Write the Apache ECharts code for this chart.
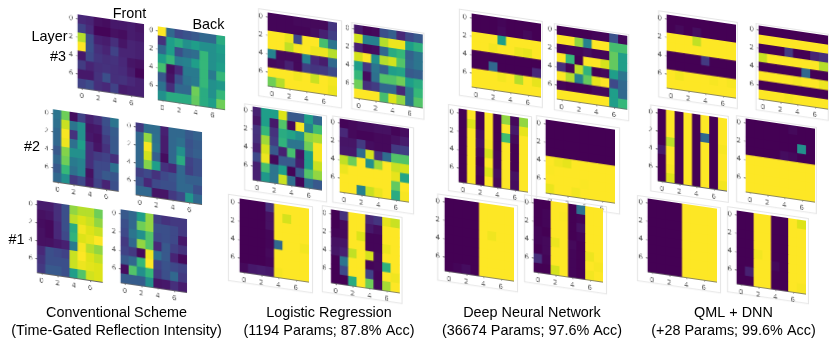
<!DOCTYPE html>
<html><head><meta charset="utf-8">
<script src="https://cdn.jsdelivr.net/npm/echarts@6/dist/echarts.min.js"></script>
<style>
html,body{margin:0;padding:0;background:#fff;width:830px;height:348px;overflow:hidden}
#stage{position:relative;width:830px;height:348px}
.panel{position:absolute;transform-origin:0 0;filter:blur(.45px)}
.frame{position:absolute;box-sizing:border-box;border:1px solid #e6e6e6}
.chart{position:absolute;left:0;top:0}
#text{position:absolute;left:0;top:0;width:830px;height:348px;pointer-events:none}
</style></head><body>
<div id="stage"></div>
<script>
const indexLabels = ['0','1','2','3','4','5','6','7'];
const captions = [
  ['Conventional Scheme','(Time-Gated Reflection Intensity)'],
  ['Logistic Regression','(1194 Params; 87.8% Acc)'],
  ['Deep Neural Network','(36674 Params; 97.6% Acc)'],
  ['QML + DNN','(+28 Params; 99.6% Acc)']
];
const conv3Front = [[1,.9,.4,.3,.6,.6,.7,.5],[1.8,1.1,.1,.1,.4,.3,.7,.6],[8,2.1,.8,.7,1.2,.5,.9,.8],[10,2.2,1.2,.9,1.8,.9,.9,.8],[.6,2,1.4,1.2,1.3,1,.5,.4],[1.6,.9,1.2,1.3,1.2,1.1,.7,.1],[.6,.6,1.3,2.2,1.2,1.3,1,.8],[1.8,2.1,1.2,1,1.8,.7,.8,.8]];
const conv3Back = [[10,3,2,2.3,2.5,3,3,5.5],[1.3,5,5.5,4.5,5,4.5,4.5,5],[3,5,2.2,3,3.2,6,4.5,4.8],[5,6,3.8,4,5,6,4.5,5],[6.3,.3,1,3.7,3.7,6,3.7,6],[2.5,.5,2.2,3.4,3.7,6,4.5,4.8],[3.4,1.2,3,3,7,5.5,4.5,6],[4.5,5.5,5.5,5.5,6.8,5.5,5,7]];
const conv2Front = [[3.5,7,.3,1.8,.8,1.2,2.2,3.5],[3.3,8.5,3.5,4.5,.5,.6,2,2.6],[3,9.8,1.3,4.5,.6,.4,1.6,2.5],[3,9.5,3.3,5,1.2,.5,1.3,2.5],[2.5,7.3,4.5,4.5,1.2,1.6,1.8,1.2],[3,7,3.7,4,1.2,2,2,3.3],[2.5,6,3.3,4,.4,2,2.5,2.4],[3,4.5,1.5,2,.6,1.8,.9,2.2]];
const conv2Back = [[1.5,3.2,3.2,.8,3,3,2.5,2.8],[3,7.5,3.3,.7,3,3.3,2.3,2.6],[3,9.8,3.5,.7,3,4.5,2.4,2.7],[3,8.7,2.7,.3,3,5.5,1.8,2.2],[3,7.3,5,1.3,1,3,1.7,2.2],[1.7,2,1.3,2,2.3,3,2.7,2.7],[2.3,1,2,2.2,2.2,3,3,2.2],[3,3,.5,.5,1.5,2,4.7,3]];
const conv1Front = [[.7,.7,1.2,2.2,7.5,8,8,7],[.4,.5,1.2,2.2,8.2,9,8.5,7.5],[.3,.2,1,2.2,5.5,9.7,9,8.5],[.4,.2,1,2,5.8,9,9.3,10],[.4,.4,.6,.8,3.7,9.8,8,7.5],[1,2.2,2,1.8,8.5,10,9,8.3],[1.3,2.2,2.2,2.2,8.5,9.5,9.2,9],[1.5,2.5,2.5,2.2,5,6.5,8.7,9]];
const conv1Back = [[2.5,3,5,7.5,1.7,1.3,1.5,1.5],[2.2,3,7,7.5,2.2,2.2,2,1.5],[2,3.5,4.5,6.5,2,2.2,2,.6],[1.5,3,7.5,6.5,1,2.5,1.7,1.3],[1.8,1.5,.2,9.6,3.3,2.5,.9,.2],[2.5,3,6,10,1.8,2.3,2,1.8],[.3,6.5,4.5,6,1.5,2.2,3,1.5],[2.6,2.6,2.6,4.5,.5,.6,1.2,.7]];
const lr3Front = [[.1,.1,.1,.2,.2,.2,.2,1.4],[.1,.1,.1,.1,.1,.3,.8,1.7],[10,10,9.5,2,10,10,6.3,3.5],[10,10,8.3,9.8,10,9.5,9.5,8],[4,.2,.2,.2,4,1,.7,3],[.2,.3,.8,.2,1.7,1.4,1.5,2],[10,10,10,9.7,10,8.5,10,9.7],[7,8,10,10,10,10,10,9.5]];
const lr3Back = [[.6,.1,.2,2.2,2.7,1,2,2.5],[8.7,4,4,8,9.5,9.5,5,5.7],[.8,.2,.3,3,5.5,6,2.8,3.5],[8.8,10,4.5,8,8.7,6.5,3,3.5],[5,1.5,3.5,2.7,5,5.2,2.5,2.7],[6,.3,3.3,6.5,6.5,7,5,5.5],[7,1.2,1.6,3,3,1,3.5,6],[10,10,10,6.3,9,7.5,3.5,6.5]];
const lr2Front = [[.8,5,5,9,2.5,2.5,5,3],[.5,5,.6,6.5,.2,9.8,4,6.2],[1.3,6,1.3,5.5,5.2,4.5,7.5,7.8],[1.2,7.7,1.6,5.8,3.5,3.5,7,9.8],[.8,8.8,2.5,.8,6.3,.5,5,9.8],[2,9.5,.2,2.5,2.5,.7,5,8.5],[.8,6.3,3.5,5,.1,2.5,6.5,7.5],[.8,4.8,3.5,8.5,3.2,.1,3.2,2.5]];
const lr2Back = [[.1,.2,.3,.3,.4,.4,.1,.3],[1,.2,.1,.1,.2,.2,.4,.7],[.5,.5,1.5,.3,.2,.2,1.5,1.7],[.6,.6,3.2,8.8,1.2,3.2,6.5,6.5],[8.3,7,10,4.5,7.7,10,8.5,8.8],[9.5,10,10,10,10,10,9.3,5.2],[10,10,10,10,10,10,6.8,10],[10,10,4,8.5,9.5,10,5.5,9.8]];
const lr1Front = [[0,0,0,1.2,10,10,10,10],[0,0,0,.4,10,8.8,10,10],[0,0,0,.4,10,10,10,10],[0,0,0,.1,10,10,10,10],[0,0,0,.1,3,10,10,9.7],[0,0,0,.2,10,10,10,10],[0,0,0,.1,10,10,10,10],[.2,.6,.7,.6,9.8,10,10,10]];
const lr1Back = [[0,1.3,10,10,1,1.4,9.3,8.5],[0,.2,10,10,.6,.3,10,10],[.1,.2,10,9,.1,.1,10,10],[.4,.5,10,10,.1,.1,9.5,10],[.5,.8,8.3,10,8.8,.2,10,10],[0,3.5,10,10,.1,.2,5.7,10],[0,2,10,10,1.8,.1,10,9.6],[0,0,5.5,10,7,.2,7.8,10]];
const dnn3Front = [[0,0,0,.1,0,0,0,0],[0,0,0,.2,0,0,.2,0],[10,10,10,5,10,10,10,10],[10,10,9.7,10,10,9.5,9.3,10],[0,0,0,0,0,0,0,0],[0,0,3,0,0,0,0,1],[10,10,10,9.7,10,8,10,9.3],[10,10,10,10,10,10,10,10]];
const dnn3Back = [[0,0,0,0,.1,.1,2.3,.2],[10,10,7.5,4,10,10,6.3,6.3],[0,.1,.1,.3,.1,.1,6.8,5],[10,6,0,10,10,8.8,6.8,5],[1.2,.1,8.3,5.8,0,.2,5,3.5],[10,8,4,6.8,9.3,10,2,3],[.1,0,0,0,.2,.2,5,3],[10,10,10,10,10,10,5,6]];
const dnn2Front = [[0,10,0,10,0,7.5,.2,7.5],[0,9,0,10,0,10,.6,9.3],[0,10,.3,10,0,6.2,.2,10],[0,10,.4,9.8,0,10,0,10],[0,10,.2,8.8,.1,10,0,10],[0,10,0,10,.1,10,0,10],[0,10,.1,9,.3,10,.4,10],[0,10,0,10,.2,10,.3,10]];
const dnn2Back = [[0,0,0,0,0,0,0,0],[0,0,0,0,0,0,0,0],[0,0,0,0,0,0,0,0],[0,0,0,0,0,0,0,0],[10,9.6,9.3,10,10,10,10,10],[9.9,10,10,10,10,10,10,10],[10,10,10,10,9.9,10,10,10],[9.4,10,10,9.7,10,10,10,10]];
const dnn1Front = [[0,0,0,0,10,10,10,10],[0,0,0,0,10,10,10,10],[0,0,0,0,10,10,10,10],[0,0,0,0,10,9.6,10,10],[0,0,0,0,10,10,10,10],[0,0,0,0,10,10,10,10],[0,0,0,0,10,10,10,10],[0,.1,.3,0,10,10,10,10]];
const dnn1Back = [[0,0,10,10,0,3.4,10,10],[0,.1,10,9.9,0,.1,10,10],[0,.1,10,10,0,.4,10,10],[.1,0,10,10,0,.1,10,10],[.1,.2,9.5,10,.2,0,10,10],[0,.2,10,10,.1,0,9.5,10],[1.2,.1,10,10,.1,0,10,9.8],[0,0,8.8,10,.1,0,9.7,10]];
const qml3Front = [[0,0,0,0,0,0,0,0],[0,.2,0,.3,0,0,0,0],[10,10,10,8.3,10,10,10,10],[10,10,10,10,10,10,10,10],[0,0,0,0,1.5,0,0,0],[0,0,0,0,0,0,0,0],[10,9.7,10,10,10,9.8,10,9.8],[10,10,10,10,10,10,10,10]];
const qml3Back = [[0,0,0,0,0,0,0,0],[10,10,10,10,10,10,10,10],[0,0,0,1.5,0,0,.9,1.2],[8.5,10,10,10,10,10,10,8],[0,0,0,0,0,3,0,0],[10,10,10,10,9.8,10,10,9.5],[0,0,0,0,0,0,0,0],[10,10,10,9.8,10,10,10,10]];
const qml2Front = [[0,10,0,10,0,10,0,10],[0,10,0,10,0,10,0,10],[0,10,0,10,0,3,0,10],[0,8.2,0,10,0,10,0,9.8],[.6,10,0,10,0,10,0,10],[0,10,0,10,0,10,0,10],[0,9.8,0,10,0,10,0,10],[0,9,0,10,0,10,0,9.7]];
const qml2Back = [[0,0,0,0,0,.2,0,0],[0,0,0,0,0,0,0,0],[0,0,0,0,0,0,4.5,0],[0,0,0,0,.3,.2,0,0],[10,10,10,10,10,10,10,10],[10,10,10,10,10,10,10,10],[10,10,10,10,10,10,10,10],[10,10,10,10,10,10,10,10]];
const qml1Front = [[0,0,0,0,10,10,10,10],[0,0,0,0,10,10,10,10],[0,0,0,0,10,10,10,10],[0,0,0,0,10,10,10,10],[0,0,0,0,10,10,10,10],[0,0,0,0,10,10,10,10],[0,0,0,0,10,10,10,10],[0,0,0,0,10,10,10,10]];
const qml1Back = [[0,0,10,10,0,0,10,9],[0,0,10,10,0,0,10,10],[0,0,10,10,0,0,10,10],[0,0,10,10,0,0,10,10],[0,0,9.7,10,0,0,10,10],[0,0,10,10,.2,0,10,10],[0,.8,10,10,0,0,10,10],[0,0,10,10,0,0,10,9.8]];

const viridis = ['#440154','#482878','#3e4989','#31688e','#26828e','#1f9e89','#35b779','#6ece58','#b5de2b','#dde318','#fde725'];
const TAN = 10/68;
const PAD = {l:22,t:6,r:6,b:20};
const CELL_W = 8, CELL_H = 9;
// layout: matrix, top-left x,y, width, height, frame margins [top,right,bottom,left] or null
const layout = [
 [conv3Front,78,14,66,73,null],[conv3Back,158,26,67,73,null],
 [conv2Front,53,109,65,72,null],[conv2Back,136,122,66,72,null],
 [conv1Front,37,200,65,72,null],[conv1Back,121,209,66,73,null],
 [lr3Front,268,13,69,73,[3,5,12,10]],[lr3Back,354,25,68,73,[2,2,12,3]],
 [lr2Front,253,107,69,73,[2,5,12,9]],[lr2Back,340,119,69,73,[2,5,12,8]],
 [lr1Front,240,199,69,73,[3,4,11,12]],[lr1Back,331,210,68,73,[3,3,11,10]],
 [dnn3Front,472,14,69,73,[3,2,11,13]],[dnn3Back,557,26,70,73,[2,2,12,3]],
 [dnn2Front,459,109,69,73,[3,4,11,11]],[dnn2Back,546,120,69,73,[3,5,11,10]],
 [dnn1Front,445,198,69,73,[3,4,11,8]],[dnn1Back,534,199,69,73,[3,4,12,10]],
 [qml3Front,667,15,69,73,[3,2,11,9]],[qml3Back,759,26,69,73,[2,1,12,3]],
 [qml2Front,658,108,69,72,[3,2,12,8]],[qml2Back,746,119,69,73,[2,2,12,10]],
 [qml1Front,648,199,69,73,[2,4,11,11]],[qml1Back,737,211,69,73,[3,3,10,10]]
];
const stage = document.getElementById('stage');
layout.forEach(([m,x,y,w,h,fr]) => {
  const p = document.createElement('div');
  p.className = 'panel';
  const gw = CELL_W*8, gh = CELL_H*8;
  const a = w/gw, d = h/gh;
  const tw = PAD.l+gw+PAD.r, th = PAD.t+gh+PAD.b;
  p.style.cssText = `left:${x-a*PAD.l}px;top:${y-TAN*a*PAD.l-d*PAD.t}px;width:${tw}px;height:${th}px;transform:matrix(${a},${TAN*a},0,${d},0,0)`;
  if (fr) {
    const f = document.createElement('div');
    f.className = 'frame';
    f.style.cssText = `left:${PAD.l-fr[3]/a}px;top:${PAD.t-fr[0]/d}px;width:${gw+(fr[1]+fr[3])/a}px;height:${gh+(fr[0]+fr[2])/d}px`;
    p.appendChild(f);
  }
  const c = document.createElement('div');
  c.className = 'chart';
  c.style.cssText = `width:${tw}px;height:${th}px`;
  p.appendChild(c);
  stage.appendChild(p);
  const data = [];
  m.forEach((row,r) => row.forEach((v,col) => data.push([col,r,v])));
  const axisCommon = {
    type:'category', data:indexLabels, splitArea:{show:false}, splitLine:{show:false},
    axisLine:{show:true,onZero:false,lineStyle:{color:'#666',width:.6}},
    axisTick:{show:true,length:2,interval:1,alignWithLabel:true,lineStyle:{color:'#666',width:.6}},
    axisLabel:{show:true,interval:1,fontSize:6.5,color:'#555',margin:4.5,fontFamily:'DejaVu Sans'}
  };
  echarts.init(c,null,{renderer:'canvas',devicePixelRatio:3}).setOption({
    animation:false, backgroundColor:'transparent',
    grid:{left:PAD.l,top:PAD.t,width:gw,height:gh,show:false},
    xAxis:axisCommon,
    yAxis:Object.assign({},axisCommon,{inverse:true}),
    visualMap:{show:false,min:0,max:10,inRange:{color:viridis},seriesIndex:0},
    series:[{type:'heatmap',data:data,silent:true,itemStyle:{borderWidth:0},emphasis:{disabled:true},progressive:0}]
  });
});
const t = document.createElement('div');
t.id = 'text';
stage.appendChild(t);
const captionX = [116.5,329,532,733.5];
const gfx = [];
const label = (text,x,y,size,align) => gfx.push({type:'text',x:x,y:y,style:{text:text,fontFamily:'Liberation Sans',fontSize:size,fill:'#000',align:align||'center',verticalAlign:'middle'}});
captions.forEach((c,i) => { label(c[0],captionX[i],313.5,14.4); label(c[1],captionX[i],331.5,14.4); });
label('Front',129.5,14.5,14.4); label('Back',208.5,25.5,14.4);
label('Layer',49.5,37,14.4); label('#3',58,57,14.4); label('#2',32,147,14.4); label('#1',16.5,240,14.4);
echarts.init(t,null,{devicePixelRatio:1}).setOption({animation:false,backgroundColor:'transparent',graphic:{elements:gfx}});
</script>
</body></html>
